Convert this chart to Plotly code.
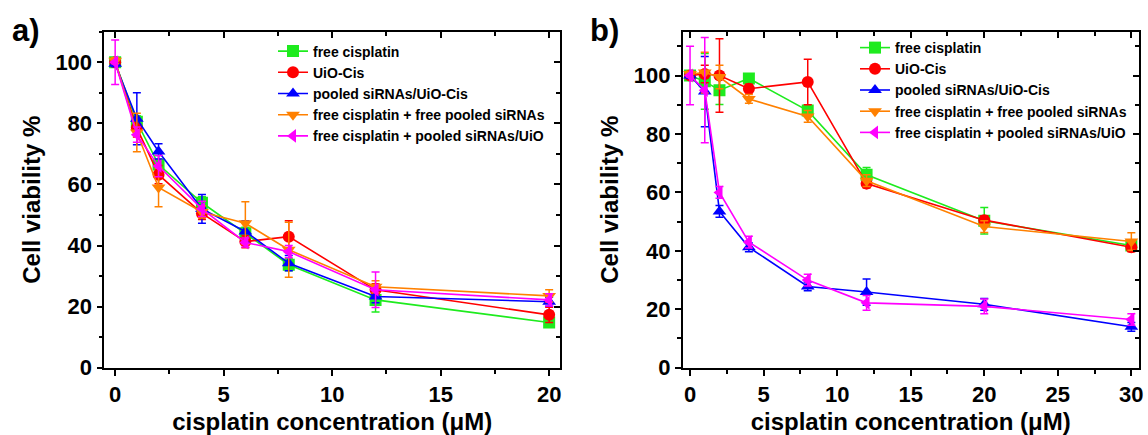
import plotly.graph_objects as go

W, H = 1148, 435

# ---------------- data ----------------
series_names = ["free cisplatin", "UiO-Cis", "pooled siRNAs/UiO-Cis",
                "free cisplatin + free pooled siRNAs", "free cisplatin + pooled siRNAs/UiO"]
colors = ["#1EEB1E", "#FF0000", "#0000FF", "#FF8000", "#FF00FF"]
symbols = ["square", "circle", "triangle-up", "triangle-down", "triangle-left"]

x_a = [0, 1, 2, 4, 6, 8, 12, 20]
a_free_cis = [100, 80.5, 66.5, 54, 44, 33.7, 22.2, 14.8]
a_uio_cis = [100, 78.5, 63.2, 50.5, 41.3, 42.9, 25.5, 17.3]
a_pooled_uio_cis = [99.5, 81.5, 70.8, 52, 44.6, 34.2, 23.3, 21.6]
a_free_free = [100.5, 77, 59, 51, 47.3, 38.6, 26.5, 23.5]
a_free_pooled_uio = [100, 76.3, 66, 52, 41, 38, 25.5, 22.2]

a_err_free_cis = [1, 2, 3, 2, 2, 2, 4, 1.5]
a_err_uio_cis = [1, 3, 3, 2, 2, 5.2, 2, 2.5]
a_err_pooled_uio_cis = [1, 8.5, 2.5, 4.7, 3.5, 2.5, 2, 1.5]
a_err_free_free = [1, 6.3, 6.3, 2, 7, 9, 2, 2]
a_err_free_pooled_uio = [7.3, 2.5, 3.5, 2.5, 1.5, 2, 5.8, 2]

x_b = [0, 1, 2, 4, 8, 12, 20, 30]
b_free_cis = [100, 98, 95, 99, 88, 66, 50.3, 41.8]
b_uio_cis = [100, 100.5, 100, 95.5, 97.8, 63, 50.5, 41.2]
b_pooled_uio_cis = [100, 94.5, 53.5, 41.2, 27.8, 25.9, 21.7, 14]
b_free_free = [100.5, 101, 99.5, 92, 86, 64, 48.3, 43.2]
b_free_pooled_uio = [100, 95, 60, 43, 30, 22.2, 21, 16.5]

b_err_free_cis = [1, 9.5, 4.9, 1.5, 2, 2.5, 4.5, 1.5]
b_err_uio_cis = [1, 3, 12.6, 1.5, 7.8, 1.5, 1.5, 1.5]
b_err_pooled_uio_cis = [1, 12, 2, 1.5, 1.5, 4.5, 2, 1.5]
b_err_free_free = [1, 7, 4, 1.5, 2, 2, 2, 3]
b_err_free_pooled_uio = [10, 18, 2, 2, 2, 2.5, 2.5, 2]

x_ticks_a = [0, 5, 10, 15, 20]
x_ticks_b = [0, 5, 10, 15, 20, 25, 30]
y_ticks = [0, 20, 40, 60, 80, 100]

panel_labels = ["a)", "b)"]
x_title = "cisplatin concentration (μM)"
y_title = "Cell viability %"

# ---------------- figure ----------------
FONT = "Liberation Sans, Arial, sans-serif"
fig = go.Figure()

a_vals = [a_free_cis, a_uio_cis, a_pooled_uio_cis, a_free_free, a_free_pooled_uio]
a_errs = [a_err_free_cis, a_err_uio_cis, a_err_pooled_uio_cis, a_err_free_free, a_err_free_pooled_uio]
b_vals = [b_free_cis, b_uio_cis, b_pooled_uio_cis, b_free_free, b_free_pooled_uio]
b_errs = [b_err_free_cis, b_err_uio_cis, b_err_pooled_uio_cis, b_err_free_free, b_err_free_pooled_uio]

for i in range(5):
    fig.add_trace(go.Scatter(
        x=x_a, y=a_vals[i], name=series_names[i], mode="lines+markers",
        line=dict(color=colors[i], width=1.6),
        marker=dict(symbol=symbols[i], size=12, color=colors[i]),
        error_y=dict(type="data", array=a_errs[i], color=colors[i], thickness=1.5, width=4),
        xaxis="x", yaxis="y", legend="legend"))
for i in range(5):
    fig.add_trace(go.Scatter(
        x=x_b, y=b_vals[i], name=series_names[i], mode="lines+markers",
        line=dict(color=colors[i], width=1.6),
        marker=dict(symbol=symbols[i], size=12, color=colors[i]),
        error_y=dict(type="data", array=b_errs[i], color=colors[i], thickness=1.5, width=4),
        xaxis="x2", yaxis="y2", legend="legend2"))

# empty traces so mirrored (inside-tick) axes get drawn
fig.add_trace(go.Scatter(x=[], y=[], xaxis="x3", yaxis="y3", showlegend=False))
fig.add_trace(go.Scatter(x=[], y=[], xaxis="x4", yaxis="y4", showlegend=False))

def px_x(p):
    return p / W

def px_y(p):
    return 1 - p / H

ydom = [px_y(367.7), px_y(31.7)]
xdom_a = [px_x(104.3), px_x(560)]
xdom_b = [px_x(682.7), px_x(1138.7)]

tickfont = dict(family=FONT, size=22, color="black", weight="bold")
titlefont = dict(family=FONT, size=24, color="black", weight="bold")

def xax(domain, rng, ticks, anchor):
    return dict(domain=domain, range=rng, anchor=anchor, tickvals=ticks,
                showline=True, linecolor="black", linewidth=1.6, mirror=True,
                ticks="outside", ticklen=6, tickwidth=1.5, tickcolor="black",
                minor=dict(ticks="outside", ticklen=4, tickwidth=1.5, tickcolor="black", dtick=2.5),
                showgrid=False, zeroline=False, tickfont=tickfont, automargin=False,
                title=dict(text=x_title, font=titlefont, standoff=8))

def yax(anchor, rng):
    return dict(domain=ydom, range=rng, anchor=anchor, tickvals=y_ticks,
                showline=True, linecolor="black", linewidth=1.6, mirror=True,
                ticks="outside", ticklen=6, tickwidth=1.5, tickcolor="black",
                minor=dict(ticks="outside", ticklen=4, tickwidth=1.5, tickcolor="black", dtick=10),
                showgrid=False, zeroline=False, tickfont=tickfont, automargin=False,
                title=dict(text=y_title, font=titlefont, standoff=8))

def xover(base, rng, ticks, anchor):
    return dict(overlaying=base, side="top", range=rng, anchor=anchor, tickvals=ticks,
                showline=False, showticklabels=False, showgrid=False, zeroline=False,
                ticks="inside", ticklen=6, tickwidth=1.5, tickcolor="black", automargin=False,
                minor=dict(ticks="inside", ticklen=4, tickwidth=1.5, tickcolor="black", dtick=2.5))

def yover(base, rng, anchor):
    return dict(overlaying=base, side="right", range=rng, anchor=anchor, tickvals=y_ticks,
                showline=False, showticklabels=False, showgrid=False, zeroline=False,
                ticks="inside", ticklen=6, tickwidth=1.5, tickcolor="black", automargin=False,
                minor=dict(ticks="inside", ticklen=4, tickwidth=1.5, tickcolor="black", dtick=10))

rng_xa = [-0.5, 20.5]
rng_xb = [-0.5, 30.5]
rng_ya = [0, 110]
rng_yb = [0, 115]

legfont = dict(family=FONT, size=14, color="black", weight="bold")

fig.update_layout(
    width=W, height=H, autosize=False,
    margin=dict(l=0, r=0, t=0, b=0, pad=0),
    paper_bgcolor="white", plot_bgcolor="white",
    showlegend=True,
    xaxis=xax(xdom_a, rng_xa, x_ticks_a, "y"),
    yaxis=yax("x", rng_ya),
    xaxis2=xax(xdom_b, rng_xb, x_ticks_b, "y2"),
    yaxis2=yax("x2", rng_yb),
    xaxis3=xover("x", rng_xa, x_ticks_a, "y3"),
    yaxis3=yover("y", rng_ya, "x3"),
    xaxis4=xover("x2", rng_xb, x_ticks_b, "y4"),
    yaxis4=yover("y2", rng_yb, "x4"),
    legend=dict(x=px_x(273), y=px_y(35.5), xanchor="left", yanchor="top",
                bgcolor="rgba(0,0,0,0)", font=legfont, tracegroupgap=0),
    legend2=dict(x=px_x(855), y=px_y(32), xanchor="left", yanchor="top",
                 bgcolor="rgba(0,0,0,0)", font=legfont, tracegroupgap=0),
    annotations=[
        dict(text=panel_labels[0], x=px_x(10), y=px_y(30), xref="paper", yref="paper",
             xanchor="left", yanchor="middle", showarrow=False,
             font=dict(family=FONT, size=31, color="black", weight="bold")),
        dict(text=panel_labels[1], x=px_x(588), y=px_y(30), xref="paper", yref="paper",
             xanchor="left", yanchor="middle", showarrow=False,
             font=dict(family=FONT, size=31, color="black", weight="bold")),
    ],
)

fig.write_html("out.html", config={"responsive": False, "displayModeBar": False},
               post_script="document.body.style.margin='0px';document.body.style.overflow='hidden';")
